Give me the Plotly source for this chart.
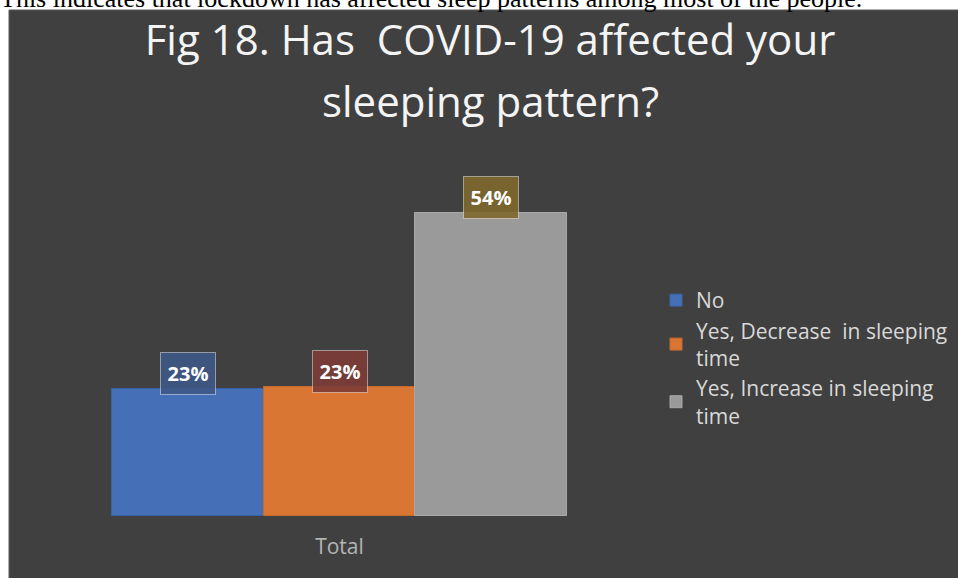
import plotly.graph_objects as go

# ---- data ----
category = ["Total"]
series_names = ["No", "Yes, Decrease  in sleeping<br>time", "Yes, Increase in sleeping<br>time"]
series_values = [0.227, 0.231, 0.542]
label_texts = ["23%", "23%", "54%"]
bar_colors = ["#4570B8", "#D97634", "#9A9A9A"]
bar_edge_colors = ["#3A62A8", "#C4692C", "#A8A8A8"]
label_fills = ["rgba(62,88,134,0.9)", "rgba(125,60,55,0.9)", "rgba(125,104,45,0.9)"]
title_line1 = "Fig 18. Has  COVID-19 affected your"
title_line2 = "sleeping pattern?"
page_text = "This indicates that lockdown has affected sleep patterns among most of the people."

# ---- geometry (pixels) ----
W, H = 958, 578
L, R, T, B = 60, 620, 150, 516
group_center_px, group_width_px = 339.5, 455.0


def px_x(p):
    return (p - L) / (R - L)


def px_y(p):
    return (B - p) / (B - T)


FONT = "Open Sans"

fig = go.Figure()
for k, (name, val, col, edge) in enumerate(zip(series_names, series_values, bar_colors, bar_edge_colors)):
    fig.add_trace(go.Bar(
        x=category, y=[val], name=name, legendgroup="g%d" % k,
        marker=dict(color=col, line=dict(color=edge, width=1)),
        hoverinfo="skip",
    ))

n = len(series_values)
annotations = []
for i, (val, txt, fill) in enumerate(zip(series_values, label_texts, label_fills)):
    annotations.append(dict(
        x=(i - (n - 1) / 2) / n, y=val, xref="x", yref="y",
        text="<b>" + txt + "</b>", showarrow=False,
        xanchor="center", yanchor="bottom", yshift=-6,
        width=54, height=41, bgcolor=fill,
        bordercolor="rgba(255,255,255,0.45)", borderwidth=1, borderpad=0,
        font=dict(family=FONT, size=20, color="#FFFFFF"),
    ))

# second title line
annotations.append(dict(
    x=px_x(490), y=px_y(101), xref="paper", yref="paper",
    text=title_line2, showarrow=False, xanchor="center", yanchor="middle",
    font=dict(family=FONT, size=42, color="#F4F4F4"),
))
# text of the page above the chart (cut off)
annotations.append(dict(
    x=px_x(-2), y=px_y(-1.5), xref="paper", yref="paper",
    text=page_text, showarrow=False, xanchor="left", yanchor="middle",
    font=dict(family="Liberation Serif", size=26, color="#000000"),
))

x0 = (L - group_center_px) / group_width_px
x1 = (R - group_center_px) / group_width_px

fig.update_layout(
    width=W, height=H,
    margin=dict(l=L, r=W - R, t=T, b=H - B, pad=0),
    paper_bgcolor="#FFFFFF",
    plot_bgcolor="rgba(0,0,0,0)",
    barmode="group", bargap=0, bargroupgap=0,
    title=dict(
        text=title_line1, x=490 / W, xanchor="center", xref="container",
        y=1 - 40 / H, yanchor="middle", yref="container",
        font=dict(family=FONT, size=42, color="#F4F4F4"),
    ),
    xaxis=dict(
        range=[x0, x1], showgrid=False, zeroline=False, showline=False,
        ticks="", tickfont=dict(family=FONT, size=21, color="#B4B4B4"),
        ticklabelstandoff=16,
    ),
    yaxis=dict(range=[0, 0.655], visible=False, showgrid=False, zeroline=False),
    legend=dict(
        xref="container", yref="container", x=656 / W, y=1 - 280 / H,
        xanchor="left", yanchor="top",
        font=dict(family=FONT, size=21, color="#D9D9D9"),
        bgcolor="rgba(0,0,0,0)", traceorder="normal", tracegroupgap=3,
    ),
    annotations=annotations,
    shapes=[dict(
        type="rect", xref="paper", yref="paper", layer="below",
        x0=px_x(9), x1=px_x(W + 2), y0=px_y(H + 2), y1=px_y(10),
        fillcolor="#404040", line=dict(color="#5A5A5A", width=1),
    )],
    showlegend=True,
)

fig.write_html("out.html", config={"displayModeBar": False},
               post_script="document.body.style.margin='0';")
